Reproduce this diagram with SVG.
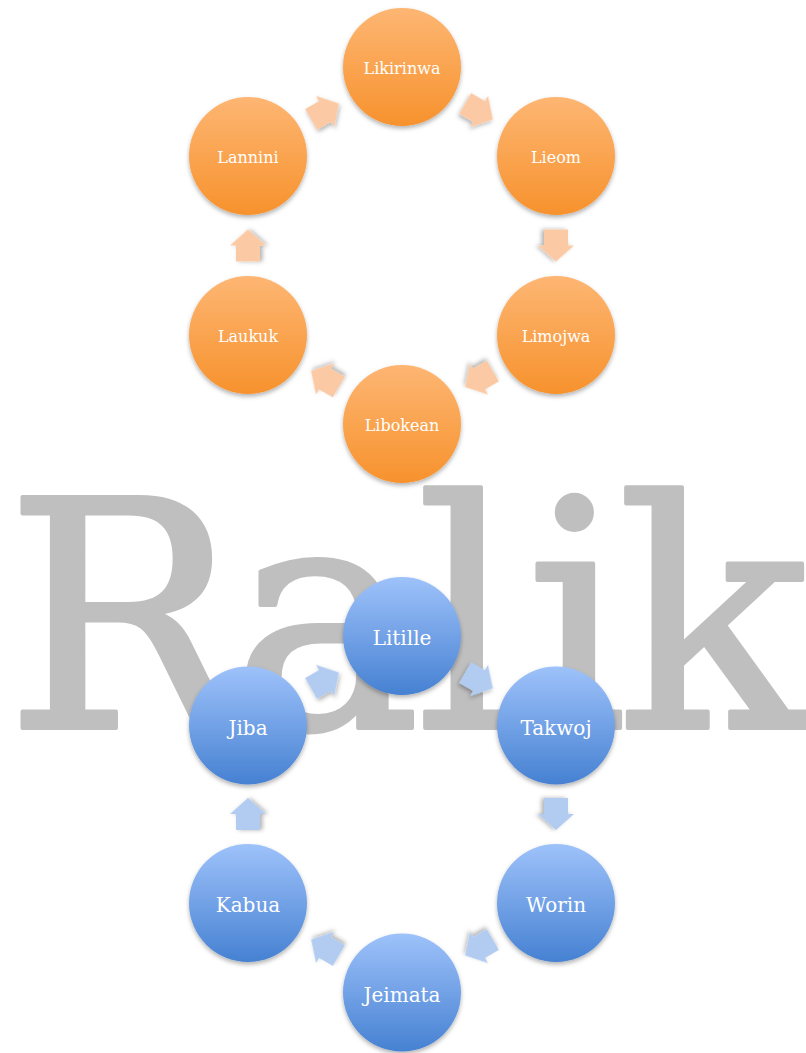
<svg xmlns="http://www.w3.org/2000/svg" width="806" height="1053" viewBox="0 0 806 1053">
<defs>
<linearGradient id="gOr" x1="0" y1="0" x2="0" y2="1">
<stop offset="0" stop-color="#fdb673"/>
<stop offset="1" stop-color="#f7922d"/>
</linearGradient>
<linearGradient id="gBl" x1="0" y1="0" x2="0" y2="1">
<stop offset="0" stop-color="#9ec2fa"/>
<stop offset="1" stop-color="#4681d2"/>
</linearGradient>
<filter id="sh" x="-20%" y="-20%" width="140%" height="150%">
<feDropShadow dx="0" dy="2.5" stdDeviation="2" flood-color="#000" flood-opacity="0.3"/>
</filter>
<path id="arr" d="M-16,-12 H0 V-18 L16,0 L0,18 V12 H-16 Z"/>
</defs>
<style>
.ralik{font-family:"DejaVu Serif","Liberation Serif",serif;font-size:317px;fill:#bfbfbf;stroke:#bfbfbf;stroke-width:4;stroke-linejoin:round}
.or{fill:url(#gOr);filter:url(#sh)}
.bl{fill:url(#gBl);filter:url(#sh)}
.lo{font-family:"DejaVu Serif","Liberation Serif",serif;font-size:16px;fill:#fff;text-anchor:middle}
.lb{font-family:"DejaVu Serif","Liberation Serif",serif;font-size:20px;fill:#fff;text-anchor:middle}
.ao{fill:#fbc9a3;filter:url(#sh)}
.ab{fill:#b2ccf1;filter:url(#sh)}
</style>
<rect width="806" height="1053" fill="#fff"/>
<g id="title"><text class="ralik" x="5 232 416 526 617" y="728">Ralik</text></g>
<g id="connectors">
<use href="#arr" class="ao" transform="translate(325,111.5) rotate(-30)"/>
<use href="#arr" class="ao" transform="translate(479,111.5) rotate(30)"/>
<use href="#arr" class="ao" transform="translate(556,245.5) rotate(90)"/>
<use href="#arr" class="ao" transform="translate(479,379) rotate(150)"/>
<use href="#arr" class="ao" transform="translate(325,379) rotate(210)"/>
<use href="#arr" class="ao" transform="translate(248,245.5) rotate(270)"/>
<use href="#arr" class="ab" transform="translate(325,680.5) rotate(-30)"/>
<use href="#arr" class="ab" transform="translate(479,680.5) rotate(30)"/>
<use href="#arr" class="ab" transform="translate(556,814) rotate(90)"/>
<use href="#arr" class="ab" transform="translate(479,947.5) rotate(150)"/>
<use href="#arr" class="ab" transform="translate(325,947.5) rotate(210)"/>
<use href="#arr" class="ab" transform="translate(248,814) rotate(270)"/>
</g>
<g id="n-likirinwa"><circle class="or" cx="402" cy="67" r="59"/><text class="lo" x="402" y="74">Likirinwa</text></g>
<g id="n-lieom"><circle class="or" cx="556" cy="156" r="59"/><text class="lo" x="556" y="163">Lieom</text></g>
<g id="n-limojwa"><circle class="or" cx="556" cy="335" r="59"/><text class="lo" x="556" y="342">Limojwa</text></g>
<g id="n-libokean"><circle class="or" cx="402" cy="424" r="59"/><text class="lo" x="402" y="431">Libokean</text></g>
<g id="n-laukuk"><circle class="or" cx="248" cy="335" r="59"/><text class="lo" x="248" y="342">Laukuk</text></g>
<g id="n-lannini"><circle class="or" cx="248" cy="156" r="59"/><text class="lo" x="248" y="163">Lannini</text></g>
<g id="n-litille"><circle class="bl" cx="402" cy="636" r="59"/><text class="lb" x="402" y="645">Litille</text></g>
<g id="n-takwoj"><circle class="bl" cx="556" cy="725.5" r="59"/><text class="lb" x="556" y="734.5">Takwoj</text></g>
<g id="n-worin"><circle class="bl" cx="556" cy="903" r="59"/><text class="lb" x="556" y="912">Worin</text></g>
<g id="n-jeimata"><circle class="bl" cx="402" cy="992.5" r="59"/><text class="lb" x="402" y="1001.5">Jeimata</text></g>
<g id="n-kabua"><circle class="bl" cx="248" cy="903" r="59"/><text class="lb" x="248" y="912">Kabua</text></g>
<g id="n-jiba"><circle class="bl" cx="248" cy="725.5" r="59"/><text class="lb" x="248" y="734.5">Jiba</text></g>
</svg>
